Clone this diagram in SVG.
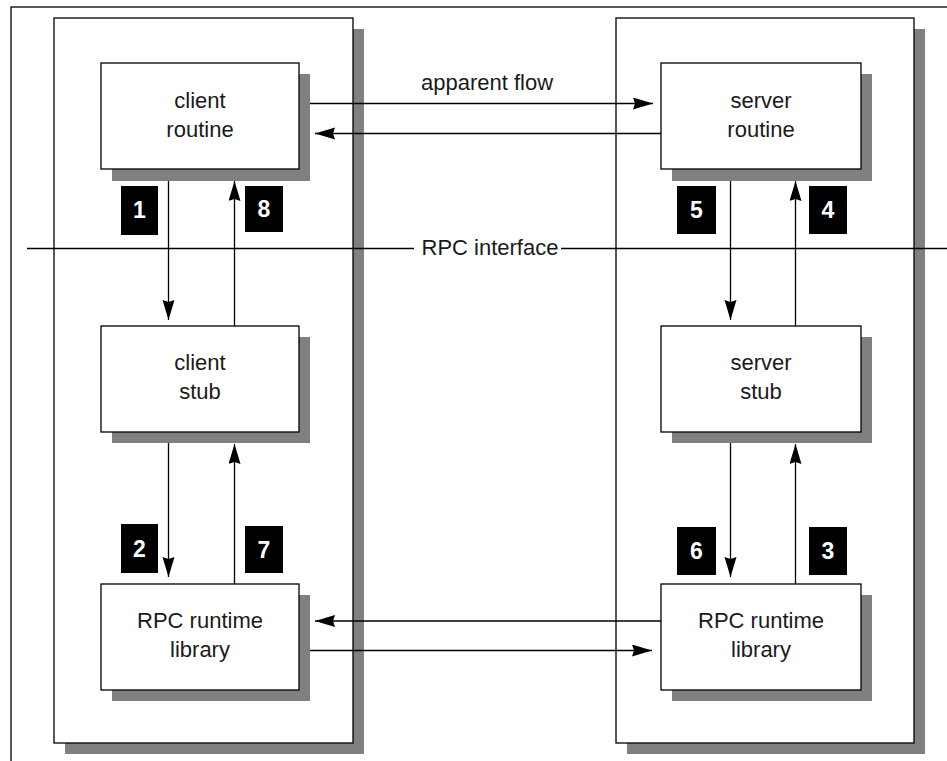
<svg xmlns="http://www.w3.org/2000/svg" width="947" height="761" viewBox="0 0 947 761">
  <style>
    .frame { fill: #ffffff; stroke: #000000; stroke-width: 1.3; }
    .box { fill: #ffffff; stroke: #000000; stroke-width: 1.3; }
    .shadow { fill: #808080; stroke: none; }
    .lbl { font-family: "Liberation Sans", Arial, sans-serif; font-size: 22px; fill: #1a1a1a; text-anchor: middle; }
    .badge { fill: #000000; }
    .num { font-family: "Liberation Sans", Arial, sans-serif; font-size: 23px; font-weight: bold; fill: #ffffff; text-anchor: middle; }
    .conn { stroke: #000000; stroke-width: 1.3; fill: none; }
  </style>
  <defs>
    <marker id="ah" markerUnits="userSpaceOnUse" markerWidth="22" markerHeight="14" refX="20" refY="6" orient="auto">
      <path d="M0,0 L20,6 L0,12 L2,6 Z" fill="#000000"/>
    </marker>
  </defs>

  <rect x="0" y="0" width="947" height="761" fill="#ffffff"/>
  <rect class="frame" x="11" y="7" width="960" height="790"/>

  <g id="client-side">
    <rect class="shadow" x="65" y="29" width="299" height="725"/>
    <rect class="box" x="54" y="18" width="299" height="725"/>
  </g>
  <g id="server-side">
    <rect class="shadow" x="627" y="29" width="298" height="725"/>
    <rect class="box" x="616" y="18" width="298" height="725"/>
  </g>

  <g id="client-routine">
    <rect class="shadow" x="112" y="74" width="198" height="107"/>
    <rect class="box" x="101" y="63" width="198" height="106"/>
    <text class="lbl" x="200" y="108">client</text>
    <text class="lbl" x="200" y="137">routine</text>
  </g>
  <g id="client-stub">
    <rect class="shadow" x="112" y="337" width="198" height="106"/>
    <rect class="box" x="101" y="326" width="198" height="106"/>
    <text class="lbl" x="200" y="370">client</text>
    <text class="lbl" x="200" y="399">stub</text>
  </g>
  <g id="client-rpc-library">
    <rect class="shadow" x="112" y="595" width="198" height="106"/>
    <rect class="box" x="101" y="584" width="198" height="106"/>
    <text class="lbl" x="200" y="628">RPC runtime</text>
    <text class="lbl" x="200" y="657">library</text>
  </g>
  <g id="server-routine">
    <rect class="shadow" x="672" y="74" width="200" height="107"/>
    <rect class="box" x="661" y="63" width="200" height="106"/>
    <text class="lbl" x="761" y="108">server</text>
    <text class="lbl" x="761" y="137">routine</text>
  </g>
  <g id="server-stub">
    <rect class="shadow" x="672" y="337" width="200" height="106"/>
    <rect class="box" x="661" y="326" width="200" height="106"/>
    <text class="lbl" x="761" y="370">server</text>
    <text class="lbl" x="761" y="399">stub</text>
  </g>
  <g id="server-rpc-library">
    <rect class="shadow" x="672" y="595" width="200" height="106"/>
    <rect class="box" x="661" y="584" width="200" height="106"/>
    <text class="lbl" x="761" y="628">RPC runtime</text>
    <text class="lbl" x="761" y="657">library</text>
  </g>

  <g id="connectors">
    <line class="conn" x1="310" y1="103.5" x2="653" y2="103.5" marker-end="url(#ah)"/>
    <line class="conn" x1="661" y1="133.5" x2="315" y2="133.5" marker-end="url(#ah)"/>
    <line class="conn" x1="661" y1="621" x2="315" y2="621" marker-end="url(#ah)"/>
    <line class="conn" x1="310" y1="650.5" x2="652" y2="650.5" marker-end="url(#ah)"/>

    <line class="conn" x1="168.5" y1="181" x2="168.5" y2="320" marker-end="url(#ah)"/>
    <line class="conn" x1="234.5" y1="326" x2="234.5" y2="181" marker-end="url(#ah)"/>
    <line class="conn" x1="168.5" y1="443" x2="168.5" y2="577" marker-end="url(#ah)"/>
    <line class="conn" x1="234.5" y1="584" x2="234.5" y2="444" marker-end="url(#ah)"/>

    <line class="conn" x1="730.5" y1="181" x2="730.5" y2="320" marker-end="url(#ah)"/>
    <line class="conn" x1="795.5" y1="326" x2="795.5" y2="181" marker-end="url(#ah)"/>
    <line class="conn" x1="730.5" y1="443" x2="730.5" y2="577" marker-end="url(#ah)"/>
    <line class="conn" x1="795.5" y1="584" x2="795.5" y2="444" marker-end="url(#ah)"/>

    <line class="conn" x1="27" y1="248.5" x2="414" y2="248.5"/>
    <line class="conn" x1="561" y1="248.5" x2="947" y2="248.5"/>
    <text class="lbl" x="487" y="90">apparent flow</text>
    <text class="lbl" x="490" y="255">RPC interface</text>
  </g>

  <g id="badge-1"><rect class="badge" x="121" y="186" width="37" height="49"/><text class="num" x="139.5" y="218">1</text></g>
  <g id="badge-8"><rect class="badge" x="245" y="186" width="38" height="46"/><text class="num" x="264" y="217">8</text></g>
  <g id="badge-5"><rect class="badge" x="677" y="186" width="39" height="48"/><text class="num" x="696.5" y="218">5</text></g>
  <g id="badge-4"><rect class="badge" x="809" y="186" width="38" height="48"/><text class="num" x="828" y="218">4</text></g>
  <g id="badge-2"><rect class="badge" x="121" y="524" width="37" height="49"/><text class="num" x="139.5" y="557">2</text></g>
  <g id="badge-7"><rect class="badge" x="245" y="526" width="38" height="47"/><text class="num" x="264" y="558">7</text></g>
  <g id="badge-6"><rect class="badge" x="677" y="527" width="39" height="48"/><text class="num" x="696.5" y="559">6</text></g>
  <g id="badge-3"><rect class="badge" x="809" y="527" width="38" height="48"/><text class="num" x="828" y="559">3</text></g>
</svg>
